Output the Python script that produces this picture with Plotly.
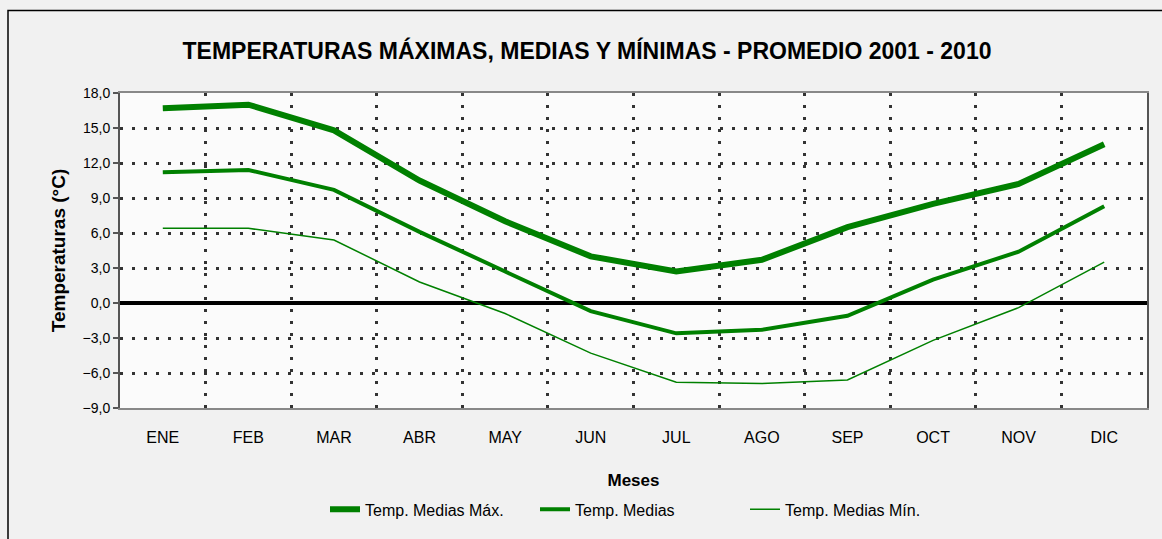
import plotly.graph_objects as go

meses = ["ENE", "FEB", "MAR", "ABR", "MAY", "JUN", "JUL", "AGO", "SEP", "OCT", "NOV", "DIC"]
temp_max = [16.7, 17.0, 14.8, 10.5, 7.0, 4.0, 2.7, 3.7, 6.5, 8.5, 10.2, 13.6]
temp_med = [11.2, 11.4, 9.7, 6.1, 2.7, -0.7, -2.6, -2.3, -1.1, 2.0, 4.4, 8.3]
temp_min = [6.4, 6.4, 5.4, 1.8, -0.9, -4.3, -6.8, -6.9, -6.6, -3.2, -0.4, 3.5]
y_ticks = [-9, -6, -3, 0, 3, 6, 9, 12, 15, 18]

GREEN = "#008000"
FONT = "Liberation Sans, Arial, sans-serif"

fig = go.Figure()
fig.add_trace(go.Scatter(x=meses, y=temp_max, mode="lines", name="Temp. Medias Máx.",
                         line=dict(color=GREEN, width=6)))
fig.add_trace(go.Scatter(x=meses, y=temp_med, mode="lines", name="Temp. Medias",
                         line=dict(color=GREEN, width=4)))
fig.add_trace(go.Scatter(x=meses, y=temp_min, mode="lines", name="Temp. Medias Mín.",
                         line=dict(color=GREEN, width=1.5)))

W, H = 1162, 539
ml, mr, mt, mb = 120, 15, 93, 129
pw, ph = W - ml - mr, H - mt - mb

def px_x(p):
    return (p - ml) / pw

def px_y(p):
    return 1 - (p - mt) / ph

fig.update_layout(
    width=W, height=H,
    margin=dict(l=ml, r=mr, t=mt, b=mb),
    paper_bgcolor="#f1f1f1",
    plot_bgcolor="#fbfbfb",
    separators=",.",
    font=dict(family=FONT, color="#000000", size=13),
    title=dict(text="<b>TEMPERATURAS MÁXIMAS, MEDIAS Y MÍNIMAS - PROMEDIO 2001 - 2010</b>",
               x=587 / W, xanchor="center", y=1 - 51 / H, yanchor="middle",
               font=dict(size=23, family=FONT, color="#000000")),
    showlegend=True,
    legend=dict(orientation="h", x=px_x(640), xanchor="center", y=px_y(512), yanchor="middle",
                bgcolor="rgba(0,0,0,0)", font=dict(size=16, family=FONT),
                tracegroupgap=0, entrywidth=165, entrywidthmode="pixels"),
    xaxis=dict(
        type="category", tickson="boundaries",
        showgrid=True, gridcolor="#333333", griddash="3px,9px", gridwidth=2.5,
        showline=True, linecolor="#888888", linewidth=2, mirror=True,
        ticks="", tickfont=dict(size=16, family=FONT), ticklabelstandoff=14,
        title=dict(text="<b>Meses</b>", font=dict(size=17, family=FONT), standoff=29),
        range=[-0.5, 11.5],
    ),
    yaxis=dict(
        range=[-9, 18], tickvals=y_ticks, tickformat=".1f",
        showgrid=True, gridcolor="#333333", griddash="3px,9px", gridwidth=2.5,
        zeroline=True, zerolinecolor="#000000", zerolinewidth=4,
        showline=True, linecolor="#555555", linewidth=2, mirror=True,
        ticks="outside", ticklen=5, tickcolor="#555555", tickwidth=1.5,
        tickfont=dict(size=14, family=FONT),
        title=dict(text="<b>Temperaturas (°C)</b>", font=dict(size=19, family=FONT), standoff=12),
    ),
    shapes=[
        dict(type="rect", xref="paper", yref="paper",
             x0=px_x(8), x1=px_x(1180), y0=px_y(560), y1=px_y(10),
             line=dict(color="#000000", width=1.5), fillcolor="rgba(0,0,0,0)", layer="below"),
    ],
)

fig.write_html("out.html", config={"displayModeBar": False},
               post_script="document.body.style.margin='0';")
